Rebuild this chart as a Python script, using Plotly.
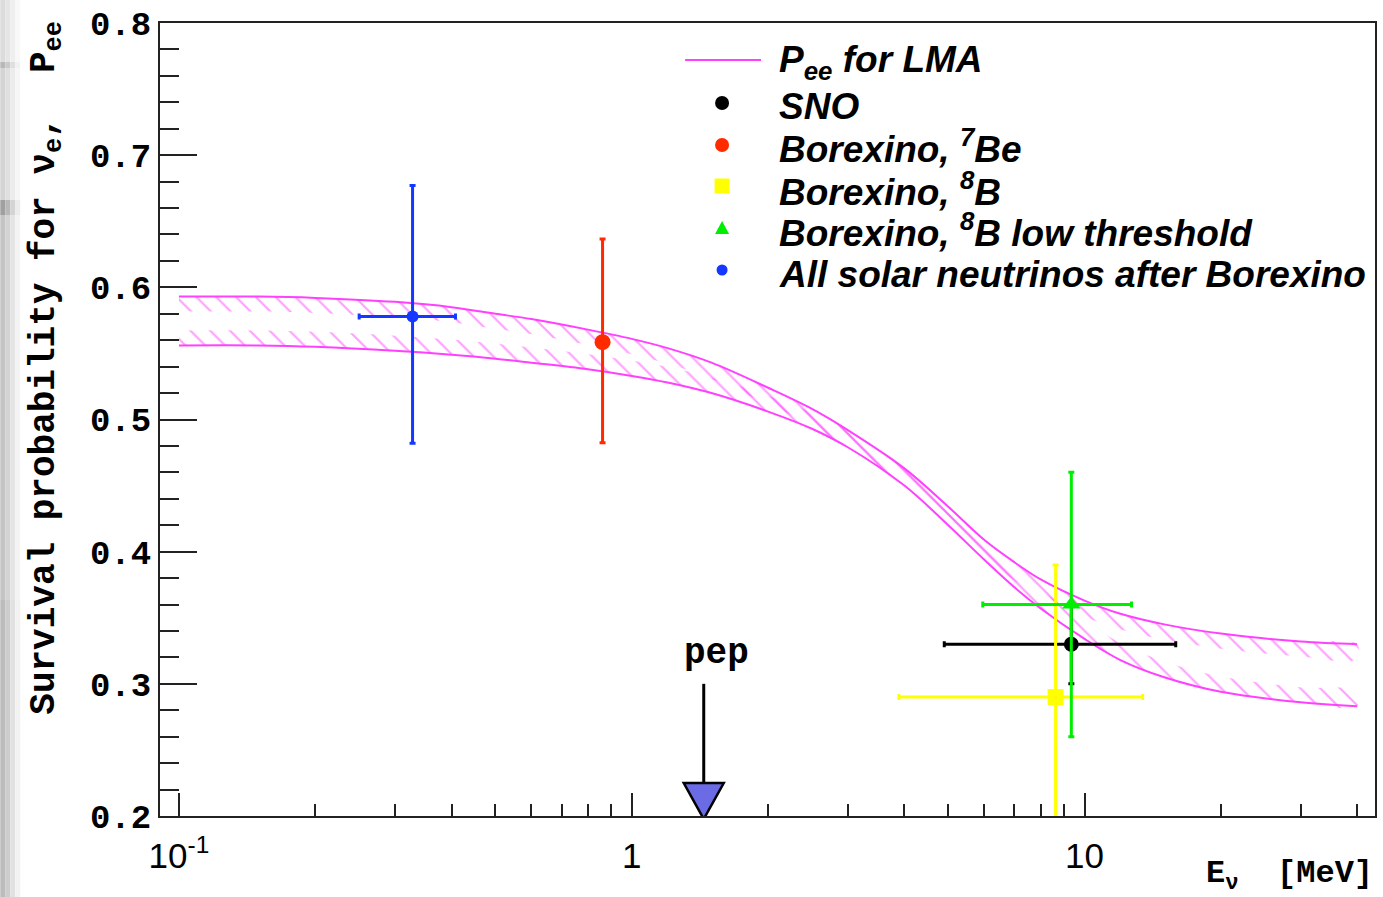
import math
import numpy as np
import plotly.graph_objects as go

# ---------------- LMA survival-probability band (boundaries) ----------------
band_energy = [0.1, 0.15, 0.2, 0.3, 0.4, 0.5, 0.6, 0.8, 1.0, 1.2, 1.5, 2.0, 2.5,
               3.0, 4.0, 5.0, 6.0, 7.0, 8.0, 10.0, 12.0, 15.0, 20.0, 30.0, 40.0]
band_upper = [0.593, 0.593, 0.592, 0.589, 0.585, 0.580, 0.576, 0.568, 0.561,
              0.554, 0.543, 0.524, 0.508, 0.492, 0.463, 0.434, 0.409, 0.392,
              0.379, 0.363, 0.353, 0.345, 0.338, 0.332, 0.330]
band_lower = [0.556, 0.556, 0.555, 0.552, 0.549, 0.546, 0.543, 0.538, 0.533,
              0.528, 0.520, 0.506, 0.493, 0.479, 0.450, 0.420, 0.394, 0.373,
              0.357, 0.334, 0.318, 0.305, 0.294, 0.286, 0.283]

# ---------------- measurements ----------------
sno_energy = [9.35]
sno_energy_low = [4.9]
sno_energy_high = [15.9]
sno_pee = [0.33]
sno_err = [0.03]

be7_energy = [0.862]
be7_pee = [0.5585]
be7_err_up = [0.078]
be7_err_down = [0.076]

b8_energy = [8.63]
b8_energy_low = [3.89]
b8_energy_high = [13.44]
b8_pee = [0.29]
b8_err = [0.10]

b8lt_energy = [9.35]
b8lt_energy_low = [5.96]
b8lt_energy_high = [12.7]
b8lt_pee = [0.36]
b8lt_err = [0.10]

all_energy = [0.328]
all_energy_low = [0.25]
all_energy_high = [0.408]
all_pee = [0.578]
all_err_up = [0.099]
all_err_down = [0.096]

pep_energy = 1.442

x_tick_vals = [0.1, 1, 10]
x_tick_text = ["10<sup>-1</sup>", "1", "10"]

legend_labels = [
    "P<sub>ee</sub> for LMA",
    "SNO",
    "Borexino, <sup>7</sup>Be",
    "Borexino, <sup>8</sup>B",
    "Borexino, <sup>8</sup>B low threshold",
    "All solar neutrinos after Borexino",
]

# ---------------- geometry / style ----------------
W, H = 1383, 897
M_L, M_R, M_T, M_B = 160, 6, 23, 81
PLOT_W = W - M_L - M_R
PLOT_H = H - M_T - M_B
X_RANGE = [math.log10(0.0908), math.log10(43.8)]
Y_RANGE = [0.2, 0.8]

MAGENTA = "#ff40ff"
RED = "#ff2a00"
BLUE = "#1438ff"
YELLOW = "#ffff00"
GREEN = "#00ee00"
MONO = "Liberation Mono"
SANS = "Liberation Sans"


def to_px(e, p):
    x = (np.log10(np.asarray(e, float)) - X_RANGE[0]) / (X_RANGE[1] - X_RANGE[0]) * PLOT_W
    y = (np.asarray(p, float) - Y_RANGE[0]) / (Y_RANGE[1] - Y_RANGE[0]) * PLOT_H
    return x, y


def from_px(x, y):
    e = 10 ** (X_RANGE[0] + x / PLOT_W * (X_RANGE[1] - X_RANGE[0]))
    p = Y_RANGE[0] + y / PLOT_H * (Y_RANGE[1] - Y_RANGE[0])
    return e, p


def hatch_strip(e, p, side, width=15.0):
    """Polygon of a fixed pixel width on one side of a curve (side=+1 below, -1 above)."""
    x, y = to_px(e, p)
    dx, dy = np.gradient(x), np.gradient(y)
    n = np.hypot(dx, dy)
    nx, ny = side * dy / n, -side * dx / n
    e2, p2 = from_px(x + width * nx, y + width * ny)
    return list(e) + list(e2[::-1]), list(p) + list(p2[::-1])


def paper(xpx, ypx):
    return (xpx - M_L) / PLOT_W, (H - M_B - ypx) / PLOT_H


fig = go.Figure()

# hatched strips along the inner side of each band boundary
for curve, side in ((band_upper, 1), (band_lower, -1)):
    sx, sy = hatch_strip(band_energy, curve, side)
    fig.add_trace(go.Scatter(
        x=sx, y=sy, mode="lines", fill="toself",
        line=dict(width=0, shape="spline", smoothing=1.0),
        fillcolor="rgba(0,0,0,0)",
        fillpattern=dict(shape="\\", fgcolor=MAGENTA, bgcolor="rgba(0,0,0,0)",
                         size=14, solidity=0.15),
        hoverinfo="skip", showlegend=False))

for curve in (band_upper, band_lower):
    fig.add_trace(go.Scatter(
        x=band_energy, y=curve, mode="lines",
        line=dict(color=MAGENTA, width=2, shape="spline", smoothing=1.0),
        showlegend=False))


def err_x(center, low, high, color):
    return dict(type="data", symmetric=False,
                array=[h - c for c, h in zip(center, high)],
                arrayminus=[c - l for c, l in zip(center, low)],
                color=color, thickness=3, width=3)


def err_y(up, down, color):
    return dict(type="data", symmetric=False, array=up, arrayminus=down,
                color=color, thickness=3, width=3)


# SNO
fig.add_trace(go.Scatter(
    x=sno_energy, y=sno_pee, mode="markers",
    marker=dict(symbol="circle", size=15, color="black"),
    error_x=err_x(sno_energy, sno_energy_low, sno_energy_high, "black"),
    error_y=err_y(sno_err, sno_err, "black"), showlegend=False))

# Borexino 8B
fig.add_trace(go.Scatter(
    x=b8_energy, y=b8_pee, mode="markers",
    marker=dict(symbol="square", size=16, color=YELLOW),
    error_x=err_x(b8_energy, b8_energy_low, b8_energy_high, YELLOW),
    error_y=err_y(b8_err, b8_err, YELLOW), showlegend=False))

# Borexino 8B low threshold
fig.add_trace(go.Scatter(
    x=b8lt_energy, y=b8lt_pee, mode="markers",
    marker=dict(symbol="triangle-up", size=16, color=GREEN),
    error_x=err_x(b8lt_energy, b8lt_energy_low, b8lt_energy_high, GREEN),
    error_y=err_y(b8lt_err, b8lt_err, GREEN), showlegend=False))

# Borexino 7Be
fig.add_trace(go.Scatter(
    x=be7_energy, y=be7_pee, mode="markers",
    marker=dict(symbol="circle", size=16, color=RED),
    error_y=err_y(be7_err_up, be7_err_down, RED), showlegend=False))

# All solar neutrinos
fig.add_trace(go.Scatter(
    x=all_energy, y=all_pee, mode="markers",
    marker=dict(symbol="circle", size=12, color=BLUE),
    error_x=err_x(all_energy, all_energy_low, all_energy_high, BLUE),
    error_y=err_y(all_err_up, all_err_down, BLUE), showlegend=False))

shapes = []
annotations = []

# pep arrow: shaft and filled head resting on the axis
shapes.append(dict(type="line", xref="x", yref="y", x0=pep_energy, x1=pep_energy,
                   y0=0.30, y1=0.225, line=dict(color="black", width=3), layer="above"))
shapes.append(dict(type="path", xref="x", yref="y", xsizemode="pixel", ysizemode="pixel",
                   xanchor=pep_energy, yanchor=Y_RANGE[0],
                   path="M -20,33 L 20,33 L 0,-3 Z",
                   fillcolor="#6b6be6", line=dict(color="black", width=2.5), layer="above"))
annotations.append(dict(xref="x", yref="y", x=math.log10(pep_energy), y=0.323, xshift=13,
                        text="pep", showarrow=False,
                        font=dict(family=MONO, size=36, color="black", weight="bold")))

# legend
leg_sym_x = 723
leg_text_x = 778
leg_sym_y = [60, 103, 145, 186, 228, 270]
leg_text_y = [62, 107, 147, 189, 231, 274]

x0p, y0p = paper(686, leg_sym_y[0])
x1p, _ = paper(762, leg_sym_y[0])
shapes.append(dict(type="line", xref="paper", yref="paper", x0=x0p, x1=x1p, y0=y0p, y1=y0p,
                   line=dict(color=MAGENTA, width=2)))


def sym_shape(kind, row, color, r):
    xa, ya = paper(leg_sym_x, leg_sym_y[row])
    base = dict(xref="paper", yref="paper", xsizemode="pixel", ysizemode="pixel",
                xanchor=xa, yanchor=ya, fillcolor=color, line=dict(width=0))
    if kind == "triangle":
        base.update(type="path", path=f"M {-r},{-r + 1} L {r},{-r + 1} L 0,{r} Z")
    else:
        base.update(type=kind, x0=-r, x1=r, y0=-r, y1=r)
    return base


shapes.append(sym_shape("circle", 1, "black", 7))
shapes.append(sym_shape("circle", 2, RED, 7))
shapes.append(sym_shape("rect", 3, YELLOW, 7.5))
shapes.append(sym_shape("triangle", 4, GREEN, 7))
shapes.append(sym_shape("circle", 5, BLUE, 5.5))

for label, ty in zip(legend_labels, leg_text_y):
    xp, yp = paper(leg_text_x, ty)
    annotations.append(dict(xref="paper", yref="paper", x=xp, y=yp, xanchor="left",
                            yanchor="middle", text=label, showarrow=False,
                            font=dict(family=SANS, size=37, color="black",
                                      weight="bold", style="italic")))

# axis titles
xp, yp = paper(47, 20)
annotations.append(dict(xref="paper", yref="paper", x=xp, y=yp, xanchor="center",
                        yanchor="top", textangle=-90, showarrow=False,
                        text="Survival probability for \u03bd<sub>e</sub>,\u00a0 P<sub>ee</sub>",
                        font=dict(family=MONO, size=36, color="black", weight="bold")))
xp, yp = paper(1377, 876)
annotations.append(dict(xref="paper", yref="paper", x=xp, y=yp, xanchor="right",
                        yanchor="middle", showarrow=False,
                        text="E<sub>\u03bd</sub>\u00a0\u00a0[MeV]",
                        font=dict(family=MONO, size=32, color="black", weight="bold")))

# grey edge along the left border of the canvas
edge_bands = [(0, 62, 0xdc), (62, 68, 0xb8), (68, 200, 0xd4), (200, 215, 0xa0),
              (215, 600, 0xc4), (600, 897, 0xbc)]
edge_fade = [1.0, 0.75, 0.45, 0.2]
for ya, yb, g in edge_bands:
    for k, f in enumerate(edge_fade):
        v = int(round(255 - (255 - g) * f))
        xa, ya_p = paper(k * 5, ya)
        xb, yb_p = paper(k * 5 + 5, yb)
        shapes.append(dict(type="rect", xref="paper", yref="paper",
                           x0=xa, x1=xb, y0=yb_p, y1=ya_p,
                           fillcolor=f"rgb({v},{v},{v})", line=dict(width=0), layer="below"))

fig.update_layout(
    width=W, height=H, autosize=False,
    margin=dict(l=M_L, r=M_R, t=M_T, b=M_B, pad=0),
    paper_bgcolor="white", plot_bgcolor="white",
    showlegend=False,
    shapes=shapes, annotations=annotations,
    xaxis=dict(
        type="log", range=X_RANGE, showgrid=False, zeroline=False,
        showline=True, linecolor="#222", linewidth=2, mirror=True,
        ticks="inside", ticklen=23, tickwidth=2, tickcolor="#222",
        tickmode="array", tickvals=x_tick_vals, ticktext=x_tick_text,
        ticklabelstandoff=8,
        tickfont=dict(family=SANS, size=35, color="black"),
        minor=dict(ticks="inside", ticklen=12, tickwidth=2, tickcolor="#222",
                   tickmode="array",
                   tickvals=[k * 10.0 ** d for d in (-1, 0, 1) for k in range(2, 10)]),
    ),
    yaxis=dict(
        range=Y_RANGE, showgrid=False, zeroline=False,
        showline=True, linecolor="#222", linewidth=2, mirror=True,
        ticks="inside", ticklen=37, tickwidth=2, tickcolor="#222",
        tick0=0.2, dtick=0.1, tickformat=".1f",
        tickfont=dict(family=MONO, size=34, color="black", weight="bold"),
        minor=dict(ticks="inside", ticklen=19, tickwidth=2, tickcolor="#222", dtick=0.02),
    ),
)

fig.write_html("out.html")
